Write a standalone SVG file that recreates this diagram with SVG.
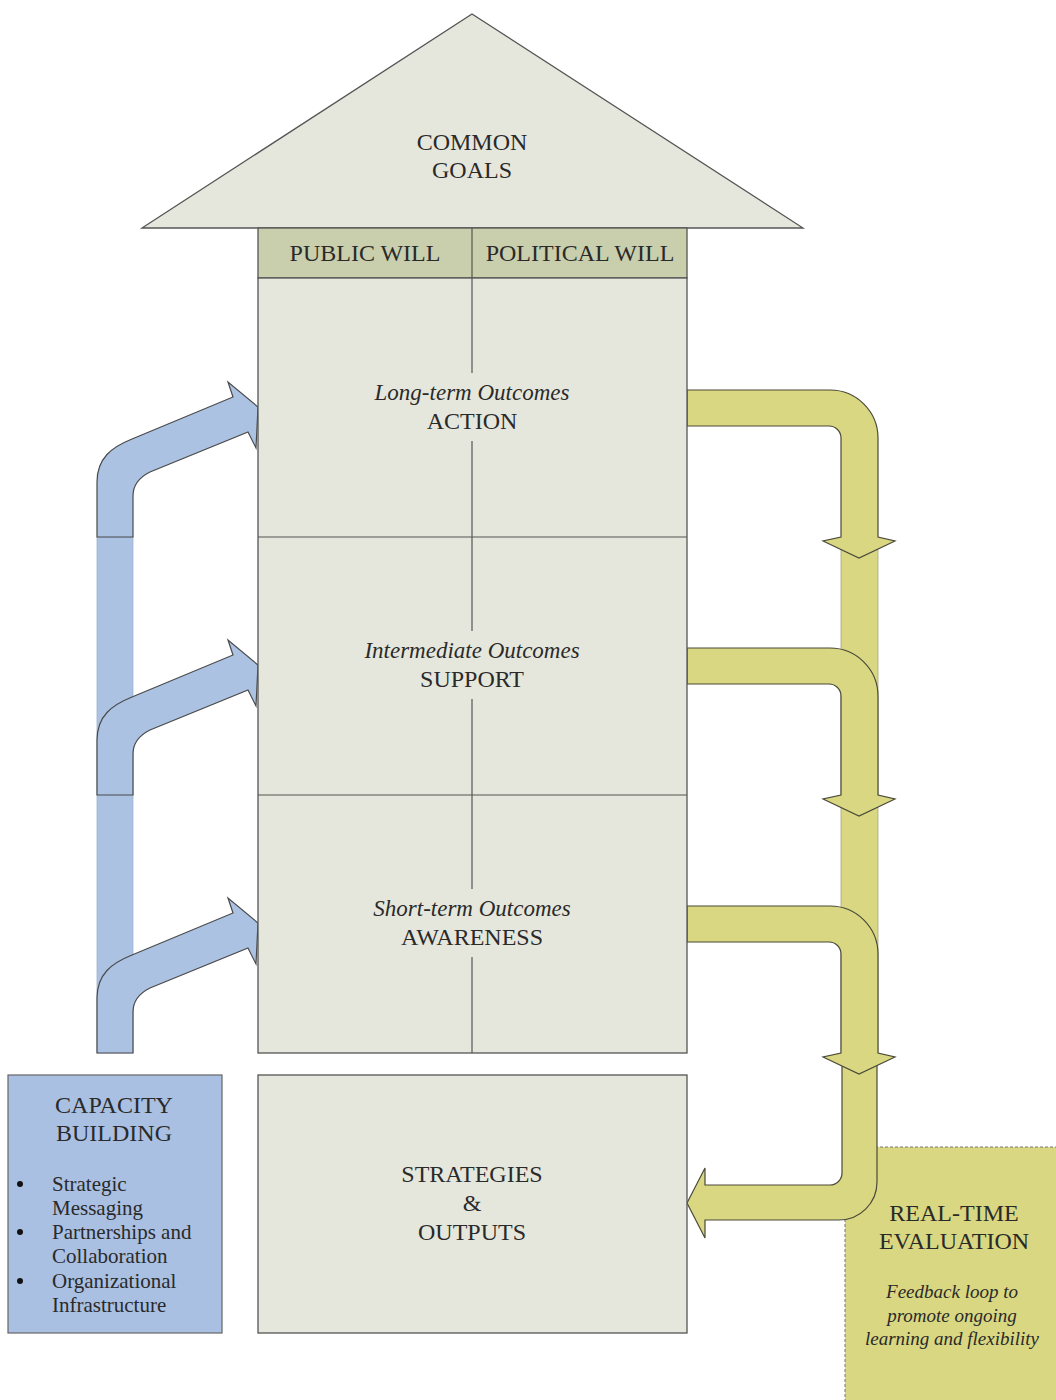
<svg xmlns="http://www.w3.org/2000/svg" width="1056" height="1400" viewBox="0 0 1056 1400">
<style>
.box{fill:#e6e7dc;stroke:#555;stroke-width:1.3}
.hdr{fill:#c9ceac;stroke:#555;stroke-width:1.3}
.div{stroke:#555;stroke-width:1.2;fill:none}
.bg{fill:#e6e7dc;stroke:none}
.blue{fill:#abc2e3;stroke:#4a4a4a;stroke-width:1.2}
.bluebar{fill:#abc2e3;stroke:#9fb3cf;stroke-width:0.8}
.yel{fill:#d9d781;stroke:#4a4a3a;stroke-width:1.2}
.yelbar{fill:#d9d781;stroke:#a9a77a;stroke-width:0.8}
.t{font-family:"Liberation Serif","DejaVu Serif",serif;fill:#2a2a2a;text-anchor:middle}
.caps{font-size:24px}
.it{font-size:23px;font-style:italic}
.bl{font-family:"Liberation Serif","DejaVu Serif",serif;fill:#2a2a2a;font-size:21px}
</style>

<g id="connectors">
  <rect class="bluebar" x="97" y="537" width="36" height="516"/>
  <path class="blue" d="M97,537 L97,482 C97,458 112,447 132,439 L233,397 L228,382 L258,407 L256,448 L248,432 L150,472 C140,477 133,484 133,496 L133,537 Z"/>
  <path class="blue" transform="translate(0,258)" d="M97,537 L97,482 C97,458 112,447 132,439 L233,397 L228,382 L258,407 L256,448 L248,432 L150,472 C140,477 133,484 133,496 L133,537 Z"/>
  <path class="blue" transform="translate(0,516)" d="M97,537 L97,482 C97,458 112,447 132,439 L233,397 L228,382 L258,407 L256,448 L248,432 L150,472 C140,477 133,484 133,496 L133,537 Z"/>
</g>

<g id="real-time-evaluation">
  <rect x="845" y="1147" width="220" height="260" fill="#d9d781" stroke="#777" stroke-width="1" stroke-dasharray="3,2"/>
  <text class="t caps" x="954" y="1221">REAL-TIME</text>
  <text class="t caps" x="954" y="1249">EVALUATION</text>
  <text class="t" x="952" y="1298" font-size="19" font-style="italic">Feedback loop to</text>
  <text class="t" x="952" y="1322" font-size="19" font-style="italic">promote ongoing</text>
  <text class="t" x="952" y="1345" font-size="19" font-style="italic">learning and flexibility</text>
</g>

<g id="connectors-right">
  <rect class="yelbar" x="841" y="540" width="37" height="520"/>
  <path class="yel" d="M841,1045 L877,1045 L877,1182 A38,38 0 0 1 839,1220 L705,1220 L705,1238 L687,1203 L705,1168 L705,1185 L830,1185 A12,12 0 0 0 842,1173 L842,1045 Z"/>
  <path class="yel" d="M687,390 L830,390 A48,48 0 0 1 878,438 L878,537 L895,541 L859,558 L823,541 L841,537 L841,438 A12,12 0 0 0 829,426 L687,426 Z"/>
  <path class="yel" transform="translate(0,258)" d="M687,390 L830,390 A48,48 0 0 1 878,438 L878,537 L895,541 L859,558 L823,541 L841,537 L841,438 A12,12 0 0 0 829,426 L687,426 Z"/>
  <path class="yel" transform="translate(0,516)" d="M687,390 L830,390 A48,48 0 0 1 878,438 L878,537 L895,541 L859,558 L823,541 L841,537 L841,438 A12,12 0 0 0 829,426 L687,426 Z"/>
</g>

<g id="common-goals">
  <polygon class="box" points="142,228 472,14 803,228"/>
  <text class="t caps" x="472" y="150">COMMON</text>
  <text class="t caps" x="472" y="178">GOALS</text>
</g>

<g id="will-header">
  <rect class="hdr" x="258" y="228" width="429" height="50"/>
  <text class="t caps" x="365" y="261">PUBLIC WILL</text>
  <text class="t caps" x="580" y="261">POLITICAL WILL</text>
</g>

<g id="outcomes-column">
  <rect class="box" x="258" y="278" width="429" height="775"/>
  <line class="div" x1="258" y1="537" x2="687" y2="537"/>
  <line class="div" x1="258" y1="795" x2="687" y2="795"/>
  <line class="div" x1="472" y1="228" x2="472" y2="1053"/>
</g>

<g id="long-term">
  <rect class="bg" x="356" y="373" width="232" height="68"/>
  <text class="t it" x="472" y="400">Long-term Outcomes</text>
  <text class="t caps" x="472" y="429">ACTION</text>
</g>
<g id="intermediate">
  <rect class="bg" x="356" y="631" width="232" height="68"/>
  <text class="t it" x="472" y="658">Intermediate Outcomes</text>
  <text class="t caps" x="472" y="687">SUPPORT</text>
</g>
<g id="short-term">
  <rect class="bg" x="356" y="889" width="232" height="68"/>
  <text class="t it" x="472" y="916">Short-term Outcomes</text>
  <text class="t caps" x="472" y="945">AWARENESS</text>
</g>

<g id="strategies">
  <rect class="box" x="258" y="1075" width="429" height="258"/>
  <text class="t caps" x="472" y="1182">STRATEGIES</text>
  <text class="t caps" x="472" y="1211">&amp;</text>
  <text class="t caps" x="472" y="1240">OUTPUTS</text>
</g>

<g id="capacity-building">
  <rect x="8" y="1075" width="214" height="258" fill="#a9c0e2" stroke="#666" stroke-width="1.2"/>
  <text class="t caps" x="114" y="1113">CAPACITY</text>
  <text class="t caps" x="114" y="1141">BUILDING</text>
  <circle cx="20" cy="1184" r="3" fill="#111"/>
  <circle cx="20" cy="1232" r="3" fill="#111"/>
  <circle cx="20" cy="1281" r="3" fill="#111"/>
  <text class="bl" x="52" y="1191">Strategic</text>
  <text class="bl" x="52" y="1215">Messaging</text>
  <text class="bl" x="52" y="1239">Partnerships and</text>
  <text class="bl" x="52" y="1263">Collaboration</text>
  <text class="bl" x="52" y="1288">Organizational</text>
  <text class="bl" x="52" y="1312">Infrastructure</text>
</g>
</svg>
